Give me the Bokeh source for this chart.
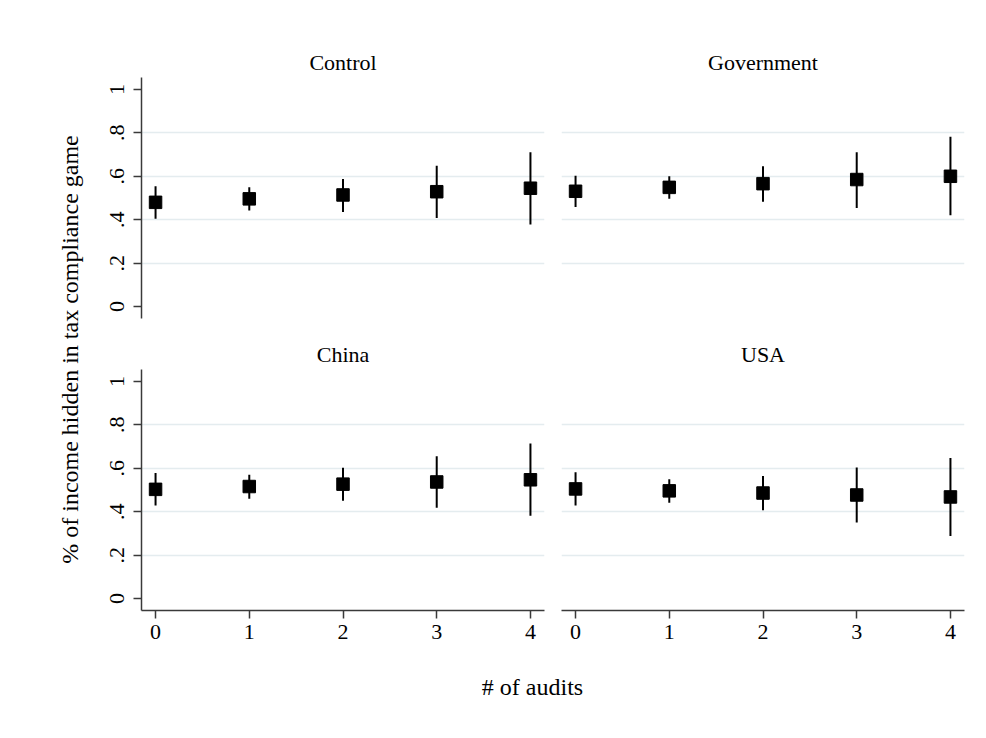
from bokeh.plotting import figure
from bokeh.layouts import row, column
from bokeh.models import Range1d, FixedTicker, Grid, ColumnDataSource
from bokeh.embed import file_html
from bokeh.resources import INLINE

# ---- data ----
audits = [0, 1, 2, 3, 4]
panel_titles = ["Control", "Government", "China", "USA"]

control_mean = [0.480, 0.496, 0.514, 0.529, 0.545]
control_lo = [0.405, 0.443, 0.436, 0.408, 0.378]
control_hi = [0.554, 0.549, 0.588, 0.649, 0.711]

gov_mean = [0.531, 0.549, 0.566, 0.585, 0.600]
gov_lo = [0.459, 0.496, 0.483, 0.454, 0.420]
gov_hi = [0.603, 0.600, 0.646, 0.711, 0.782]

china_mean = [0.503, 0.516, 0.527, 0.537, 0.547]
china_lo = [0.429, 0.460, 0.450, 0.418, 0.381]
china_hi = [0.578, 0.570, 0.602, 0.655, 0.714]

usa_mean = [0.505, 0.496, 0.486, 0.477, 0.468]
usa_lo = [0.429, 0.441, 0.407, 0.350, 0.288]
usa_hi = [0.582, 0.550, 0.565, 0.604, 0.647]

y_ticks = [0, 0.2, 0.4, 0.6, 0.8, 1]
y_tick_labels = ["0", ".2", ".4", ".6", ".8", "1"]
grid_ticks = [0.2, 0.4, 0.6, 0.8]
x_tick_labels = ["0", "1", "2", "3", "4"]

y_title = "% of income hidden in tax compliance game"
x_title = "# of audits"

FONT = "Liberation Serif"
AXIS_COLOR = "#3a3a3a"
GRID_COLOR = "#e4ecef"

FRAME_W = 403
FRAME_H = 241


def panel(title, mean, lo, hi, show_y, show_x, bl, br, bt, bb):
    p = figure(
        width=bl + FRAME_W + br,
        height=bt + FRAME_H + bb,
        x_range=Range1d(-0.15, 4.15),
        y_range=Range1d(-0.055, 1.055),
        output_backend="svg",
        toolbar_location=None,
        x_axis_location="below" if show_x else None,
        y_axis_location="left" if show_y else None,
        min_border_left=bl,
        min_border_right=br,
        min_border_top=bt,
        min_border_bottom=bb,
        title=title,
    )
    p.outline_line_color = None
    p.background_fill_color = "white"
    p.border_fill_color = "white"
    p.grid.visible = False
    p.add_layout(Grid(dimension=1, ticker=FixedTicker(ticks=grid_ticks),
                      grid_line_color=GRID_COLOR, grid_line_width=1.5))

    p.title.text_font = FONT
    p.title.text_font_size = "22px"
    p.title.text_font_style = "normal"
    p.title.text_color = "black"
    p.title.align = "center"
    p.title.standoff = 5

    if show_y:
        ax = p.yaxis[0]
        ax.ticker = FixedTicker(ticks=y_ticks)
        ax.major_label_overrides = dict(zip(y_ticks, y_tick_labels))
        ax.major_label_orientation = "vertical"
        ax.major_label_standoff = 9
    if show_x:
        ax = p.xaxis[0]
        ax.ticker = FixedTicker(ticks=audits)
        ax.major_label_overrides = dict(zip(audits, x_tick_labels))
        ax.major_label_standoff = 6
    for ax in p.axis:
        ax.axis_line_color = AXIS_COLOR
        ax.axis_line_width = 1.5
        ax.major_tick_line_color = AXIS_COLOR
        ax.major_tick_line_width = 1.5
        ax.major_tick_out = 8
        ax.major_tick_in = 0
        ax.minor_tick_line_color = None
        ax.major_label_text_font = FONT
        ax.major_label_text_font_size = "22px"
        ax.major_label_text_color = "black"

    src = ColumnDataSource(dict(x=audits, m=mean, lo=lo, hi=hi))
    p.segment(x0="x", y0="lo", x1="x", y1="hi", source=src,
              line_color="black", line_width=2)
    p.scatter(x="x", y="m", source=src, marker="square", size=12.5,
              fill_color="black", line_color="black")
    return p


tl = panel(panel_titles[0], control_mean, control_lo, control_hi, True, False, 55, 8, 77, 10)
tr = panel(panel_titles[1], gov_mean, gov_lo, gov_hi, False, False, 9, 10, 77, 10)
bl = panel(panel_titles[2], china_mean, china_lo, china_hi, True, True, 55, 8, 41, 48)
br = panel(panel_titles[3], usa_mean, usa_lo, usa_hi, False, True, 9, 10, 41, 48)

# overall y-axis title (a frameless figure whose only visible element is the axis label)
ylab = figure(width=86, height=658, output_backend="svg", toolbar_location=None,
              x_range=Range1d(0, 1), y_range=Range1d(0, 1),
              x_axis_location=None, y_axis_location="left",
              min_border_left=82, min_border_right=0, min_border_top=77, min_border_bottom=37)
ylab.outline_line_color = None
ylab.grid.visible = False
ya = ylab.yaxis[0]
ya.ticker = FixedTicker(ticks=[])
ya.axis_line_color = None
ya.major_tick_line_color = None
ya.minor_tick_line_color = None
ya.axis_label = y_title
ya.axis_label_text_font = FONT
ya.axis_label_text_font_size = "24px"
ya.axis_label_text_font_style = "normal"
ya.axis_label_text_color = "black"
ya.axis_label_standoff = 0

# overall x-axis title
xlab = figure(width=932, height=65, output_backend="svg", toolbar_location=None,
              x_range=Range1d(0, 1), y_range=Range1d(0, 1),
              x_axis_location="below", y_axis_location=None,
              min_border_left=132, min_border_right=0, min_border_top=0, min_border_bottom=50)
xlab.outline_line_color = None
xlab.grid.visible = False
xa = xlab.xaxis[0]
xa.ticker = FixedTicker(ticks=[])
xa.axis_line_color = None
xa.major_tick_line_color = None
xa.minor_tick_line_color = None
xa.axis_label = x_title
xa.axis_label_text_font = FONT
xa.axis_label_text_font_size = "24px"
xa.axis_label_text_font_style = "normal"
xa.axis_label_text_color = "black"
xa.axis_label_standoff = 0

layout = column(row(ylab, column(row(tl, tr), row(bl, br))), xlab)

open("out.html", "w").write(file_html(layout, INLINE))
